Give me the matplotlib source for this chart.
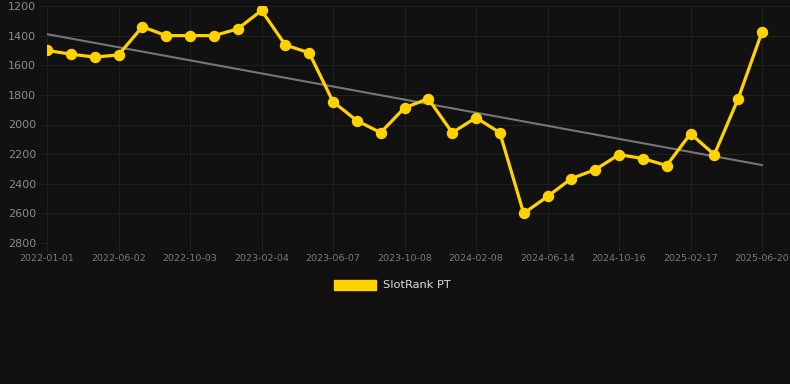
import matplotlib
matplotlib.use("Agg")
import matplotlib.pyplot as plt
import numpy as np
from matplotlib.patches import Patch

tick_labels = ["2022-01-01", "2022-06-02", "2022-10-03", "2023-02-04", "2023-06-07",
               "2023-10-08", "2024-02-08", "2024-06-14", "2024-10-16", "2025-02-17",
               "2025-06-20"]
rank_values = [1500, 1525, 1545, 1530, 1340, 1400, 1400, 1400, 1355, 1230,
               1463, 1516, 1846, 1974, 2055, 1887, 1826, 2055, 1954, 2055,
               2600, 2486, 2365, 2305, 2203, 2230, 2277, 2062, 2203, 1826, 1375]
series_name = "SlotRank PT"

BG = "#111111"
GRID = "#202020"
GOLD = "#FFD200"

W, H = 790, 384
fig = plt.figure(figsize=(W / 100, H / 100), dpi=100, facecolor=BG)
ax = fig.add_axes([47 / W, 1 - 243 / H, (W - 47) / W, (243 - 6) / H], facecolor=BG)

x = np.arange(len(rank_values))
y = np.array(rank_values, dtype=float)

# trend line (linear fit)
k, b = np.polyfit(x, y, 1)
ax.plot([x[0], x[-1]], [k * x[0] + b, k * x[-1] + b], color="#767676", lw=1.5, zorder=2)

ax.plot(x, y, color=GOLD, lw=2.3, marker="o", markersize=7.2, zorder=3,
        solid_joinstyle="round", label=series_name)

px_per_unit = (762 - 47) / (len(x) - 1)
ax.set_xlim(0, (W - 47) / px_per_unit)
ax.set_ylim(2800, 1200)
ax.set_yticks(np.arange(1200, 2801, 200))
ax.set_xticks(x[::3])
ax.set_xticklabels(tick_labels)

ax.grid(True, color=GRID, lw=0.8)
for s in ax.spines.values():
    s.set_visible(False)
ax.tick_params(axis="y", colors=GRID, length=6, width=0.8, pad=2, labelcolor="#8a8a8a", labelsize=8)
ax.tick_params(axis="x", colors=GRID, length=6, width=0.8, pad=2, labelcolor="#7a7a7a", labelsize=6.8)

handle = Patch(facecolor=GOLD, edgecolor=GOLD)
fig.legend([handle], [series_name], loc="center", bbox_to_anchor=(392 / W, 1 - 285 / H),
           frameon=False, handlelength=3.7, handleheight=1.0, handletextpad=0.6,
           fontsize=8.2, labelcolor="#dddddd")

fig.savefig("out.png", dpi=100, facecolor=BG)
